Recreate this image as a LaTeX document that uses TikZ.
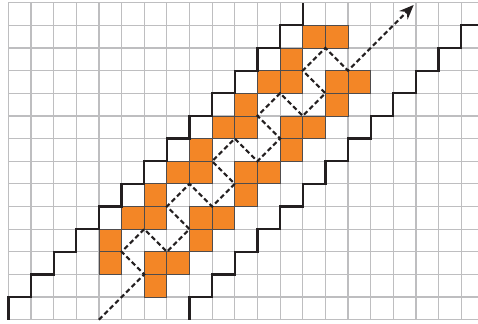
\documentclass[tikz,border=0pt]{standalone}
\usepackage{xcolor}
\definecolor{cellorange}{RGB}{243,134,38}
\definecolor{inkdark}{RGB}{35,31,32}
\definecolor{gridgray}{RGB}{190,190,192}
\usetikzlibrary{arrows.meta}

\begin{document}
\begin{tikzpicture}[x=0.6cm, y=0.6cm,
    gridline/.style={draw=gridgray, line width=0.9pt, step=1},
    cellbox/.style={fill=cellorange, draw=inkdark!80, line width=0.6pt},
    stairline/.style={draw=inkdark, line width=1.7pt},
    pathline/.style={draw=inkdark, line width=1.6pt, dash pattern=on 3.6pt off 2.2pt},
    >={Stealth[length=11pt, width=9pt]}
  ]
    \useasboundingbox (-0.37,-0.18) rectangle (20.74,14.12);

    % background grid
    \draw[gridline] (0,0) grid (20.74,14);

    % orange cells
    \foreach \i/\j in {6/1, 4/2, 6/2, 7/2, 4/3, 8/3, 5/4, 6/4, 8/4, 9/4,
                       6/5, 10/5, 7/6, 8/6, 10/6, 11/6, 8/7, 12/7,
                       9/8, 10/8, 12/8, 13/8, 10/9, 14/9, 11/10, 12/10,
                       14/10, 15/10, 12/11, 13/12, 14/12}
      \draw[cellbox] (\i,\j) rectangle ++(1,1);

    % staircase borders
    \draw[stairline] (0,0) \foreach \k in {1,...,13} { |- (\k,\k) } -- (13,14);
    \draw[stairline] (8,0) \foreach \k in {9,...,20} { |- (\k,\k-8) } |- (20.74,13);

    % zigzag path
    \draw[pathline, ->] (4,0) -- (6,2) -- (5,3) -- (6,4) -- (7,3) -- (8,4)
      -- (7,5) -- (8,6) -- (9,5) -- (10,6) -- (9,7) -- (10,8) -- (11,7)
      -- (12,8) -- (11,9) -- (12,10) -- (13,9) -- (14,10) -- (13,11)
      -- (14,12) -- (15,11) -- (17.9,13.9);
  \end{tikzpicture}
\end{document}
